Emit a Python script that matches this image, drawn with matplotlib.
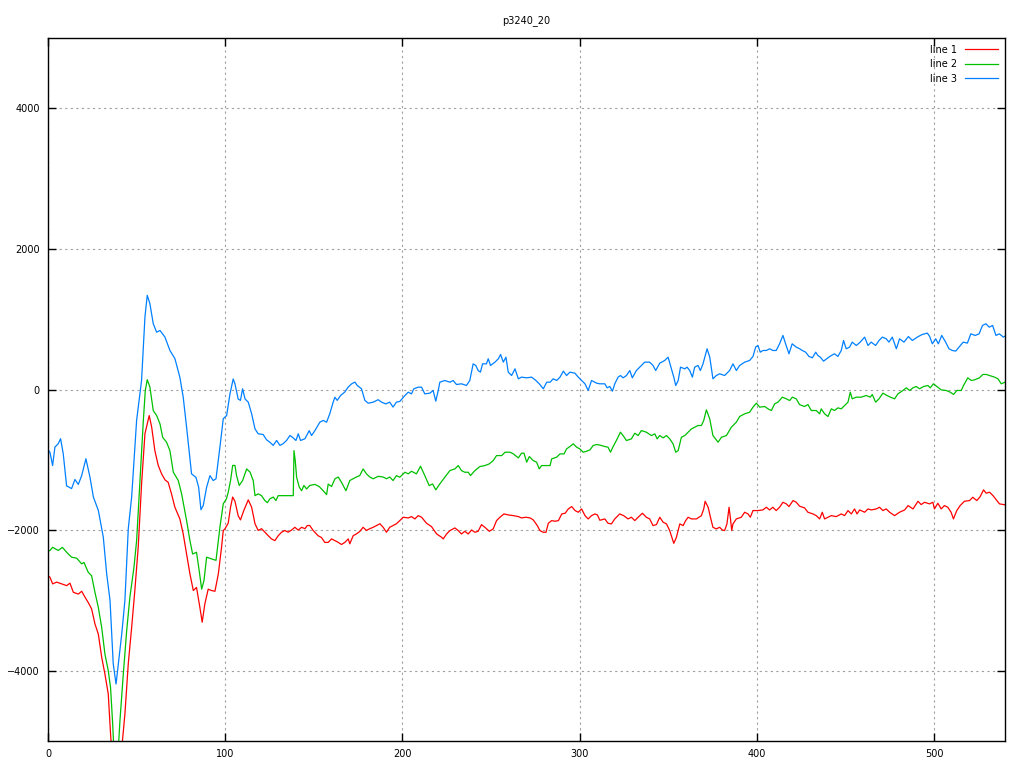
import matplotlib
matplotlib.use("Agg")
import matplotlib.pyplot as plt

# values (x, y pairs per line)
x1 = [0, 1.1, 2.6, 4.9, 7.7, 10.5, 12.4, 14.3, 17.1, 19, 20.9, 22.7, 24.6, 26.5, 28.4, 30.3, 32.1, 34, 35.3, 37, 39.5, 42,
      43.4, 45.3, 47.2, 49, 50.9, 52.8, 54.7, 56, 57.1, 58.5, 60.3, 62.2, 64.1, 66, 67.8, 69.7, 71.6, 74.4, 76.3, 78.2,
      80.1, 82, 83.8, 85.7, 87, 88.5, 90.4, 92.3, 94.2, 96.1, 97.9, 98.9, 99.8, 101.7, 103, 104.2, 105.5, 107.3, 108.6,
      110.5, 113, 114.9, 116.8, 118.6, 120.5, 122.4, 124.3, 126.1, 128, 129.9, 131.8, 133.6, 135.5, 137.4, 139.3, 141.2,
      143.1, 145, 146.3, 147.7, 149.6, 152.4, 154.3, 156.2, 158.1, 160, 161.9, 163.8, 165.6, 167.5, 169.4, 170.3, 172.2,
      174, 175.9, 177.8, 179.7, 181.6, 183.5, 185.4, 187.3, 189.1, 191, 192.8, 194.7, 196.6, 198.5, 200.4, 203.3, 205.1,
      207, 208.9, 210.8, 213.6, 216.4, 219.3, 222.1, 223, 224.9, 226.8, 229.6, 231.5, 233.3, 235.2, 237.1, 239, 240.9,
      242.7, 244.6, 246.5, 249, 251.2, 253.1, 255, 257.3, 259.7, 262.6, 265.4, 267.2, 269.7, 272, 273.8, 276.1, 277.6,
      279.5, 281, 282.3, 284.2, 286.1, 288, 289.9, 291.8, 293.6, 295.5, 297.4, 299.2, 301.1, 303, 304.8, 306.7, 308.6,
      310, 311.4, 314.2, 316, 317.9, 319.8, 322.6, 324.8, 327.3, 329.2, 331.1, 333, 335.4, 337.6, 339.5, 341.4, 343.3,
      345.2, 347.1, 349, 350.8, 352.3, 353.1, 354.6, 356.5, 358.4, 359.8, 361.2, 363.1, 365.9, 368.7, 370, 370.8, 372.5,
      373.8, 375.2, 377.1, 379, 380.5, 381.8, 383.1, 384.3, 385, 385.8, 386.5, 388.4, 391.2, 393.1, 395, 396.3, 397.8,
      400.6, 403.4, 405.3, 407.2, 409, 410.9, 412.8, 414.7, 416.6, 418.1, 420.4, 422.2, 424.1, 426.9, 428.8, 431.6,
      433.5, 435.4, 436.9, 438.2, 440.1, 442, 444.8, 447.6, 449.5, 451.4, 453.3, 455.1, 456.5, 458, 460.8, 462.7, 464.5,
      467.4, 469.2, 471.1, 473, 474.9, 477.7, 480.5, 483.4, 485.3, 488.1, 490.9, 492.7, 494.6, 497.4, 499.3, 500.2,
      502.1, 504, 505.8, 507.7, 509.6, 510.9, 512.8, 514.7, 517.1, 520, 521.8, 524.1, 526, 527.9, 529.4, 531.3, 533.2,
      535.4, 536.9, 539.1, 540]
y1 = [-2650, -2670, -2765, -2740, -2765, -2790, -2755, -2885, -2910, -2870, -2955, -3030, -3120, -3335, -3480, -3810,
      -4045, -4330, -4900, -5500, -5900, -5000, -4615, -3900, -3385, -2860, -2245, -1345, -630, -490, -370, -535, -870,
      -1080, -1200, -1285, -1320, -1485, -1675, -1840, -2055, -2340, -2625, -2860, -2815, -3100, -3310, -3050, -2840,
      -2860, -2870, -2625, -2250, -2005, -1985, -1900, -1675, -1530, -1590, -1795, -1855, -1720, -1570, -1675, -1910,
      -2005, -1980, -2030, -2080, -2125, -2150, -2080, -2030, -2005, -2030, -2000, -1960, -2000, -1960, -1980, -1935,
      -1935, -2005, -2080, -2105, -2175, -2175, -2125, -2150, -2175, -2205, -2175, -2125, -2195, -2080, -2055, -2020,
      -1960, -2005, -1980, -1960, -1935, -1910, -1960, -2030, -1960, -1935, -1910, -1865, -1817, -1827, -1808, -1841,
      -1794, -1817, -1903, -1950, -2055, -2102, -2126, -2055, -2007, -1969, -2007, -2055, -2017, -2055, -1998, -2031,
      -2017, -1922, -1960, -2017, -1983, -1865, -1817, -1770, -1784, -1794, -1808, -1827, -1817, -1827, -1855, -1936,
      -2007, -2031, -2031, -1903, -1865, -1874, -1865, -1770, -1760, -1699, -1665, -1722, -1746, -1699, -1794, -1841,
      -1794, -1770, -1784, -1860, -1841, -1903, -1912, -1841, -1770, -1794, -1841, -1817, -1865, -1817, -1760, -1817,
      -1841, -1936, -1922, -1817, -1888, -1912, -2007, -2126, -2188, -2102, -1912, -1936, -1865, -1817, -1841, -1841,
      -1794, -1699, -1590, -1675, -1817, -1960, -1983, -1960, -1998, -2007, -1912, -1675, -1817, -2007, -1912, -1841,
      -1817, -1746, -1770, -1817, -1722, -1722, -1713, -1675, -1713, -1675, -1722, -1675, -1604, -1627, -1665, -1580,
      -1604, -1660, -1684, -1746, -1770, -1794, -1841, -1746, -1841, -1817, -1794, -1808, -1770, -1794, -1722, -1770,
      -1699, -1770, -1713, -1746, -1699, -1713, -1699, -1675, -1722, -1699, -1746, -1794, -1746, -1713, -1651, -1699,
      -1590, -1637, -1604, -1627, -1604, -1699, -1618, -1699, -1651, -1675, -1746, -1841, -1722, -1651, -1590, -1580,
      -1533, -1580, -1523, -1428, -1475, -1461, -1509, -1580, -1627, -1637, -1640]

x2 = [0, 1.1, 2.6, 5.8, 8.1, 10.5, 13.3, 16.2, 19, 20.3, 22.7, 24.6, 26.5, 28.4, 30.3, 32.1, 34, 35.3, 36.5, 37.5, 39,
      40.6, 42.5, 44.4, 46.2, 48.5, 50, 51.9, 53.8, 54.9, 56, 57.5, 59.4, 61.3, 63.2, 64.7, 66.9, 68.8, 70.7, 73.5,
      75.4, 78.2, 80.1, 81.6, 83.8, 85.3, 86.7, 88, 89.5, 92.3, 94.8, 97, 98.9, 100.7, 101.7, 103, 104.2, 105.5, 106.4,
      107.9, 109.8, 112.1, 114, 115.8, 116.8, 118.6, 120.5, 122.4, 123.8, 125.2, 127.1, 128.6, 129.9, 138.4, 138.8,
      139.5, 140.3, 141.8, 143.1, 144.4, 145.9, 147.7, 150.6, 153, 155.3, 157.2, 158.1, 160, 161.9, 163.8, 165.6,
      168.1, 170.3, 172.2, 174, 175.9, 177.8, 179.7, 181.6, 183.5, 186.3, 189.1, 191, 192.8, 194.7, 196.6, 198.5,
      201.4, 203.3, 205.1, 207.9, 210.2, 212.6, 215.1, 217, 218.8, 221.1, 223.9, 226.8, 229.6, 231.5, 233.3, 235.2,
      237.1, 238.4, 240.9, 243.7, 246.5, 249, 251.2, 253.1, 256, 257.9, 260.7, 262.6, 265.4, 267.2, 268.6, 270.1,
      271.6, 273.8, 275.7, 277.2, 278.5, 283.3, 284.2, 287, 288.9, 291.2, 292.6, 294.5, 296.4, 298.3, 300.1, 302,
      303.9, 305.8, 307.6, 309.5, 311.3, 314.2, 316, 317.4, 318.9, 320.7, 323, 324.5, 326.4, 329.2, 331.1, 333, 334.8,
      337.6, 340.5, 342.4, 343.7, 345.2, 347.1, 349, 350.8, 352.7, 354.2, 355.6, 357.4, 359.3, 361.2, 363.1, 365,
      366.8, 368.7, 370, 371.5, 373.4, 375.2, 378.1, 380, 382.8, 385.6, 388.4, 390.3, 393.1, 395.9, 397.8, 399.7,
      401.6, 404.4, 406.3, 408.2, 410, 411.9, 414.4, 416.6, 418.5, 420, 422.2, 424.1, 426.9, 428.8, 430.7, 433.5,
      435.4, 436.3, 438.2, 440.1, 442, 443.8, 445.7, 447.6, 449.5, 451.4, 452.7, 453.8, 456.1, 458.9, 461.7, 464,
      465.1, 467, 468.9, 471.1, 473.4, 475.3, 477.7, 479.6, 482.4, 484.3, 486.2, 488.1, 489.9, 491.8, 494.1, 496.5,
      497.8, 499.6, 501.5, 504, 506.8, 509.1, 511, 512.8, 515.3, 516.6, 519, 521, 522.8, 525.6, 527.5, 529.4, 531.3,
      534.1, 536, 537.9, 540]
y2 = [-2300, -2290, -2245, -2290, -2245, -2315, -2385, -2400, -2480, -2460, -2600, -2650, -2885, -3100, -3385, -3760,
      -4000, -4240, -4760, -5300, -5400, -4710, -4045, -3430, -2955, -2530, -2150, -1295, -440, -15, 140, 35, -300,
      -370, -490, -680, -750, -870, -1175, -1295, -1485, -1865, -2150, -2340, -2315, -2575, -2840, -2720, -2385, -2410,
      -2430, -1960, -1625, -1555, -1460, -1295, -1080, -1080, -1225, -1365, -1295, -1130, -1175, -1295, -1510, -1485,
      -1510, -1580, -1610, -1555, -1530, -1580, -1510, -1510, -870, -1010, -1250, -1390, -1440, -1365, -1415, -1365,
      -1350, -1380, -1440, -1495, -1345, -1380, -1270, -1245, -1320, -1440, -1295, -1270, -1245, -1225, -1130, -1200,
      -1245, -1270, -1235, -1245, -1270, -1245, -1295, -1225, -1248, -1177, -1200, -1163, -1200, -1091, -1224, -1367,
      -1343, -1428, -1343, -1248, -1153, -1129, -1082, -1153, -1177, -1177, -1224, -1153, -1096, -1082, -1058, -1011,
      -940, -940, -892, -892, -916, -973, -906, -906, -1034, -954, -1011, -1034, -1129, -1082, -1082, -987, -963, -916,
      -916, -845, -811, -773, -821, -845, -892, -878, -859, -797, -783, -790, -811, -821, -892, -811, -726, -607, -655,
      -726, -702, -622, -655, -584, -607, -655, -631, -702, -655, -688, -655, -702, -773, -892, -868, -679, -655, -607,
      -560, -536, -512, -512, -441, -289, -418, -655, -750, -679, -655, -536, -465, -384, -346, -323, -251, -195, -251,
      -242, -275, -299, -204, -180, -109, -133, -157, -109, -133, -215, -242, -214, -299, -299, -346, -275, -346, -384,
      -275, -299, -261, -275, -228, -180, -38, -133, -109, -109, -85, -109, -71, -180, -133, -52, -85, -109, -133, -62,
      -14, 24, -14, 24, 43, 10, 43, 57, 24, 81, 43, -5, -14, -38, -71, -14, -14, 57, 166, 128, 137, 166, 214, 214, 199,
      176, 152, 81, 104]

x3 = [0, 1.1, 2.6, 3.9, 5.8, 7.1, 8.6, 10.5, 13.3, 15.2, 17.1, 19, 21.4, 23.7, 25.6, 28.4, 31.2, 33.1, 35, 36.8, 38.4,
      39.7, 41.6, 43.4, 45.3, 47.2, 50, 52.8, 54.7, 56, 57.5, 59.4, 61.3, 63.2, 66, 68.8, 71.6, 74.4, 76.3, 78.2, 81,
      83.5, 85, 86.3, 87.6, 89.5, 91.4, 93.2, 94.8, 97, 98.9, 100.8, 102.7, 104.5, 105.5, 107.3, 108.6, 109.8, 111.2,
      113, 114.9, 116.8, 118.6, 121.4, 123.3, 125.2, 127.1, 129, 130.9, 132.7, 134.6, 136.5, 138, 139.9, 141.2, 142.5,
      145, 147.4, 148.7, 150.6, 153.4, 155.3, 157.2, 159, 160.9, 161.9, 163.2, 165.1, 167.5, 169.4, 171.3, 173.2,
      174.4, 176.9, 178.8, 180.7, 183.5, 186.3, 188.2, 190.6, 192.8, 194.7, 196.6, 198.5, 201.4, 203.3, 205.1, 206.4,
      208.9, 210.8, 212.6, 215.5, 217.3, 218.8, 220.2, 221.1, 223.9, 226.8, 228.6, 230.5, 233.3, 236.1, 238, 239.9,
      241.4, 242.7, 244, 245.2, 247.4, 248.4, 249.7, 252.2, 254.1, 255.4, 256.9, 258.4, 259.7, 261.6, 263.5, 265.4,
      267.2, 270.1, 272.9, 275.3, 277.2, 279.5, 281.4, 283.3, 285.1, 287, 288.9, 290.8, 292.6, 294.5, 297.3, 299.2,
      301.1, 303, 304.8, 306.7, 309.6, 311.3, 314.2, 315.5, 317, 318.5, 319.8, 321.7, 323, 324.5, 326.4, 328.3, 329.7,
      332, 334.8, 336.7, 339.5, 341.4, 342.9, 345.2, 348, 349.9, 351.8, 353.1, 354.2, 355.6, 356.9, 359.3, 360.6,
      362.1, 363.6, 364.9, 366.8, 368.1, 369.6, 371.9, 373.4, 375.2, 377.1, 379, 381.8, 384.6, 386.5, 388.4, 390.3,
      393.1, 395.9, 397.8, 399.3, 400.6, 401.9, 403.4, 405.3, 407.2, 409, 410.9, 412.8, 414.7, 416.2, 418.1, 419.9,
      422.2, 424.1, 425.6, 427.5, 429.4, 431.3, 433.2, 434.4, 435.8, 437.6, 440.1, 442, 443.8, 445.7, 447.6, 448.9,
      450.4, 452.3, 453.8, 456.1, 458.3, 460.8, 462.7, 464.5, 467, 468.9, 470.8, 473, 474.5, 476.4, 478.7, 480.5, 483,
      485.5, 487.7, 490.5, 493.3, 496.2, 497.5, 499, 500.9, 502.4, 504.3, 506.5, 508.4, 510.3, 512.2, 514.1, 516.4,
      518.8, 520.7, 523.2, 525.4, 527.3, 529.2, 531.1, 533, 534.9, 536.8, 539.1, 540]
y3 = [-860, -892, -1082, -820, -770, -700, -915, -1370, -1410, -1280, -1350, -1225, -985, -1250, -1530, -1720, -2100,
      -2620, -3000, -3900, -4190, -3900, -3480, -3000, -1980, -1530, -440, 130, 1030, 1340, 1220, 935, 815, 840, 745,
      555, 440, 175, -110, -535, -1200, -1250, -1390, -1710, -1650, -1390, -1225, -1295, -1270, -820, -415, -370, -60,
      150, 80, -135, -155, 10, -135, -180, -345, -560, -630, -640, -715, -750, -795, -725, -795, -770, -725, -655, -680,
      -725, -630, -725, -700, -585, -655, -585, -465, -440, -465, -345, -180, -110, -155, -85, -35, 35, 80, 105, 60, 10,
      -155, -195, -180, -145, -180, -205, -180, -250, -180, -170, -85, -38, -62, 10, 33, 33, -62, -52, -14, -166, -14,
      104, 128, 104, 128, 71, 81, 57, 128, 365, 342, 270, 247, 365, 365, 437, 342, 389, 437, 498, 389, 460, 247, 199,
      294, 152, 176, 166, 176, 128, 81, 10, 104, 104, 152, 128, 176, 261, 199, 247, 232, 176, 128, 81, -14, 128, 90, 81,
      81, 24, 43, -24, 81, 176, 199, 166, 199, 270, 166, 270, 342, 389, 389, 342, 270, 375, 413, 460, 294, 176, 57, 128,
      318, 294, 318, 270, 176, 318, 342, 270, 365, 579, 460, 152, 199, 223, 199, 270, 365, 270, 342, 389, 413, 470, 603,
      626, 531, 555, 555, 579, 555, 555, 650, 769, 650, 508, 650, 603, 580, 555, 531, 470, 451, 531, 484, 460, 403, 451,
      484, 508, 470, 555, 697, 579, 603, 674, 626, 674, 745, 626, 674, 626, 697, 745, 721, 674, 745, 579, 721, 674, 754,
      697, 745, 783, 802, 754, 650, 721, 650, 769, 674, 579, 555, 546, 603, 674, 660, 792, 769, 792, 911, 935, 887, 911,
      769, 792, 745, 760]

labels = ["line 1", "line 2", "line 3"]
colors = ["#ff0000", "#00c000", "#0080ff"]
title = "p3240_20"

fig = plt.figure(figsize=(10.24, 7.68), dpi=100)
ax = fig.add_axes([48 / 1024, 1 - 741 / 768, (1005 - 48) / 1024, (741 - 38) / 768])

for xs, ys, lab, c in zip([x1, x2, x3], [y1, y2, y3], labels, colors):
    ax.plot(xs, ys, color=c, linewidth=0.9, label=lab)

ax.set_xlim(0, 540)
ax.set_ylim(-5000, 5000)
ax.set_xticks([0, 100, 200, 300, 400, 500])
ax.set_yticks([-4000, -2000, 0, 2000, 4000])
ax.grid(True, color="#a0a0a0", linestyle=(0, (2, 3)), linewidth=0.8)
ax.tick_params(direction="in", length=6, width=1, top=True, right=True, labelsize=7, pad=6)
for s in ax.spines.values():
    s.set_linewidth(1.0)

ax.set_title(title, fontsize=7, pad=11)
ax.legend(loc="upper right", frameon=False, markerfirst=False, fontsize=7,
          handlelength=3.4, labelspacing=0.45, borderaxespad=0.3, handletextpad=0.8)

fig.savefig("out.png", dpi=100)
